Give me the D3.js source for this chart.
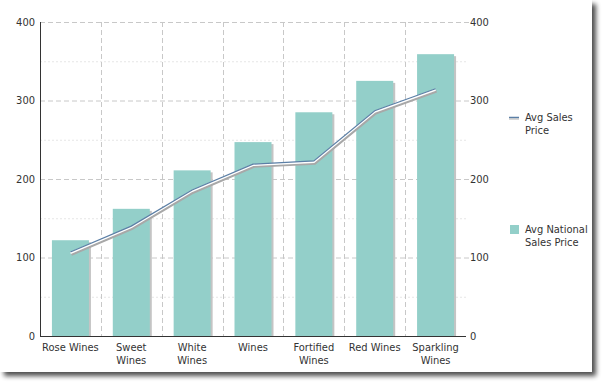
<!DOCTYPE html>
<html>
<head>
<meta charset="utf-8">
<script src="https://cdn.jsdelivr.net/npm/d3@7"></script>
<style>
  body { margin: 0; background: #fff; }
  svg text { font-family: "DejaVu Sans Condensed", "DejaVu Sans", sans-serif; font-size: 11px; fill: #333; }
</style>
</head>
<body>
<div id="chart"></div>
<script>
var categories = ["Rose Wines", "Sweet Wines", "White Wines", "Wines", "Fortified Wines", "Red Wines", "Sparkling Wines"];
var nationalPrice = [122, 162, 211, 247, 285, 325, 359];
var salesPrice = [107, 140, 186, 219, 223, 287, 315];
var yTicks = [0, 100, 200, 300, 400];
var minorTicks = [50, 150, 250, 350];

var width = 602, height = 383;
var m = { left: 40, right: 466, top: 22, bottom: 336 };

var svg = d3.select("#chart").append("svg")
    .attr("width", width)
    .attr("height", height);

// panel with drop shadow
var defs = svg.append("defs");
var f = defs.append("filter").attr("id", "shadow").attr("x", "-5%").attr("y", "-5%").attr("width", "115%").attr("height", "115%");
f.append("feGaussianBlur").attr("in", "SourceAlpha").attr("stdDeviation", 2.5);
f.append("feOffset").attr("dx", 4).attr("dy", 4).attr("result", "b");
f.append("feComponentTransfer").append("feFuncA").attr("type", "linear").attr("slope", 0.7);
var fm = f.append("feMerge");
fm.append("feMergeNode");
fm.append("feMergeNode").attr("in", "SourceGraphic");

svg.append("rect")
    .attr("x", 0).attr("y", 0)
    .attr("width", 592).attr("height", 372)
    .attr("fill", "#fff")
    .attr("filter", "url(#shadow)");

var x = d3.scaleBand().domain(categories).range([m.left, m.right]).paddingInner(0);
var y = d3.scaleLinear().domain([0, 400]).range([m.bottom, m.top]);

// minor horizontal grid
svg.append("g").selectAll("line").data(minorTicks).enter().append("line")
    .attr("x1", m.left).attr("x2", m.right)
    .attr("y1", d => y(d) + 0.5).attr("y2", d => y(d) + 0.5)
    .attr("stroke", "#e6e6e6").attr("stroke-dasharray", "2,2");

// major horizontal grid
svg.append("g").selectAll("line").data(yTicks.slice(1)).enter().append("line")
    .attr("x1", m.left).attr("x2", m.right + 6)
    .attr("y1", d => y(d) + 0.5).attr("y2", d => y(d) + 0.5)
    .attr("stroke", "#c8c8c8").attr("stroke-dasharray", "5,3");

// vertical grid at band boundaries
svg.append("g").selectAll("line").data(categories.slice(1)).enter().append("line")
    .attr("x1", d => Math.round(x(d)) + 0.5).attr("x2", d => Math.round(x(d)) + 0.5)
    .attr("y1", m.top).attr("y2", m.bottom)
    .attr("stroke", "#c8c8c8").attr("stroke-dasharray", "5,3");

// bars
var bw = 37;
var bars = svg.append("g");
bars.selectAll("rect.sh").data(nationalPrice).enter().append("rect")
    .attr("class", "sh")
    .attr("x", (d, i) => x(categories[i]) + x.bandwidth() / 2 - bw / 2 + 2)
    .attr("y", d => y(d) + 2)
    .attr("width", bw)
    .attr("height", d => m.bottom - y(d) - 2)
    .attr("fill", "#c4c4c4");
bars.selectAll("rect.bar").data(nationalPrice).enter().append("rect")
    .attr("class", "bar")
    .attr("x", (d, i) => x(categories[i]) + x.bandwidth() / 2 - bw / 2)
    .attr("y", d => y(d))
    .attr("width", bw)
    .attr("height", d => m.bottom - y(d))
    .attr("fill", "#93cfc9");

// line
var line = d3.line()
    .x((d, i) => x(categories[i]) + x.bandwidth() / 2)
    .y(d => y(d));
svg.append("path").datum(salesPrice)
    .attr("d", line).attr("transform", "translate(1,2.5)")
    .attr("fill", "none").attr("stroke", "#a8a8a8").attr("stroke-width", 2.5);
svg.append("path").datum(salesPrice)
    .attr("d", line).attr("transform", "translate(0,1)")
    .attr("fill", "none").attr("stroke", "#fff").attr("stroke-width", 2);
svg.append("path").datum(salesPrice)
    .attr("d", line)
    .attr("fill", "none").attr("stroke", "#5b7fa6").attr("stroke-width", 1.2);

// left axis line and bottom axis line
svg.append("line")
    .attr("x1", m.left + 0.5).attr("x2", m.left + 0.5)
    .attr("y1", m.top).attr("y2", m.bottom)
    .attr("stroke", "#333");
svg.append("line")
    .attr("x1", m.left).attr("x2", m.right)
    .attr("y1", m.bottom + 0.5).attr("y2", m.bottom + 0.5)
    .attr("stroke", "#333");

// left tick labels
svg.append("g").selectAll("text").data(yTicks).enter().append("text")
    .attr("x", 35).attr("y", d => y(d)).attr("dy", "0.35em")
    .attr("text-anchor", "end")
    .text(d => d);

// right tick labels
svg.append("g").selectAll("text").data(yTicks).enter().append("text")
    .attr("x", 470).attr("y", d => y(d)).attr("dy", "0.35em")
    .attr("text-anchor", "start")
    .text(d => d);

// category labels (wrapped)
var labelLines = function (c) {
    if (c === "Rose Wines" || c === "Red Wines" || c === "Wines") return [c];
    var k = c.lastIndexOf(" ");
    return [c.slice(0, k), c.slice(k + 1)];
};
var cat = svg.append("g").selectAll("text").data(categories).enter().append("text")
    .attr("text-anchor", "middle")
    .attr("x", d => x(d) + x.bandwidth() / 2)
    .attr("y", 351);
cat.selectAll("tspan").data(d => labelLines(d)).enter().append("tspan")
    .attr("x", function () { return d3.select(this.parentNode).attr("x"); })
    .attr("dy", (d, i) => i === 0 ? 0 : 12.5)
    .text(d => d);

// legend
var lg = svg.append("g");
lg.append("line").attr("x1", 509).attr("x2", 519).attr("y1", 117.5).attr("y2", 117.5)
    .attr("stroke", "#5b7fa6").attr("stroke-width", 1.5);
lg.append("line").attr("x1", 509).attr("x2", 519).attr("y1", 119).attr("y2", 119)
    .attr("stroke", "#b0b0b0").attr("stroke-width", 1);
lg.append("text").attr("x", 525).attr("y", 121).text("Avg Sales");
lg.append("text").attr("x", 525).attr("y", 134).text("Price");
lg.append("rect").attr("x", 510).attr("y", 225).attr("width", 9).attr("height", 9)
    .attr("fill", "#93cfc9");
lg.append("text").attr("x", 525).attr("y", 233).text("Avg National");
lg.append("text").attr("x", 525).attr("y", 246).text("Sales Price");
</script>
</body>
</html>
